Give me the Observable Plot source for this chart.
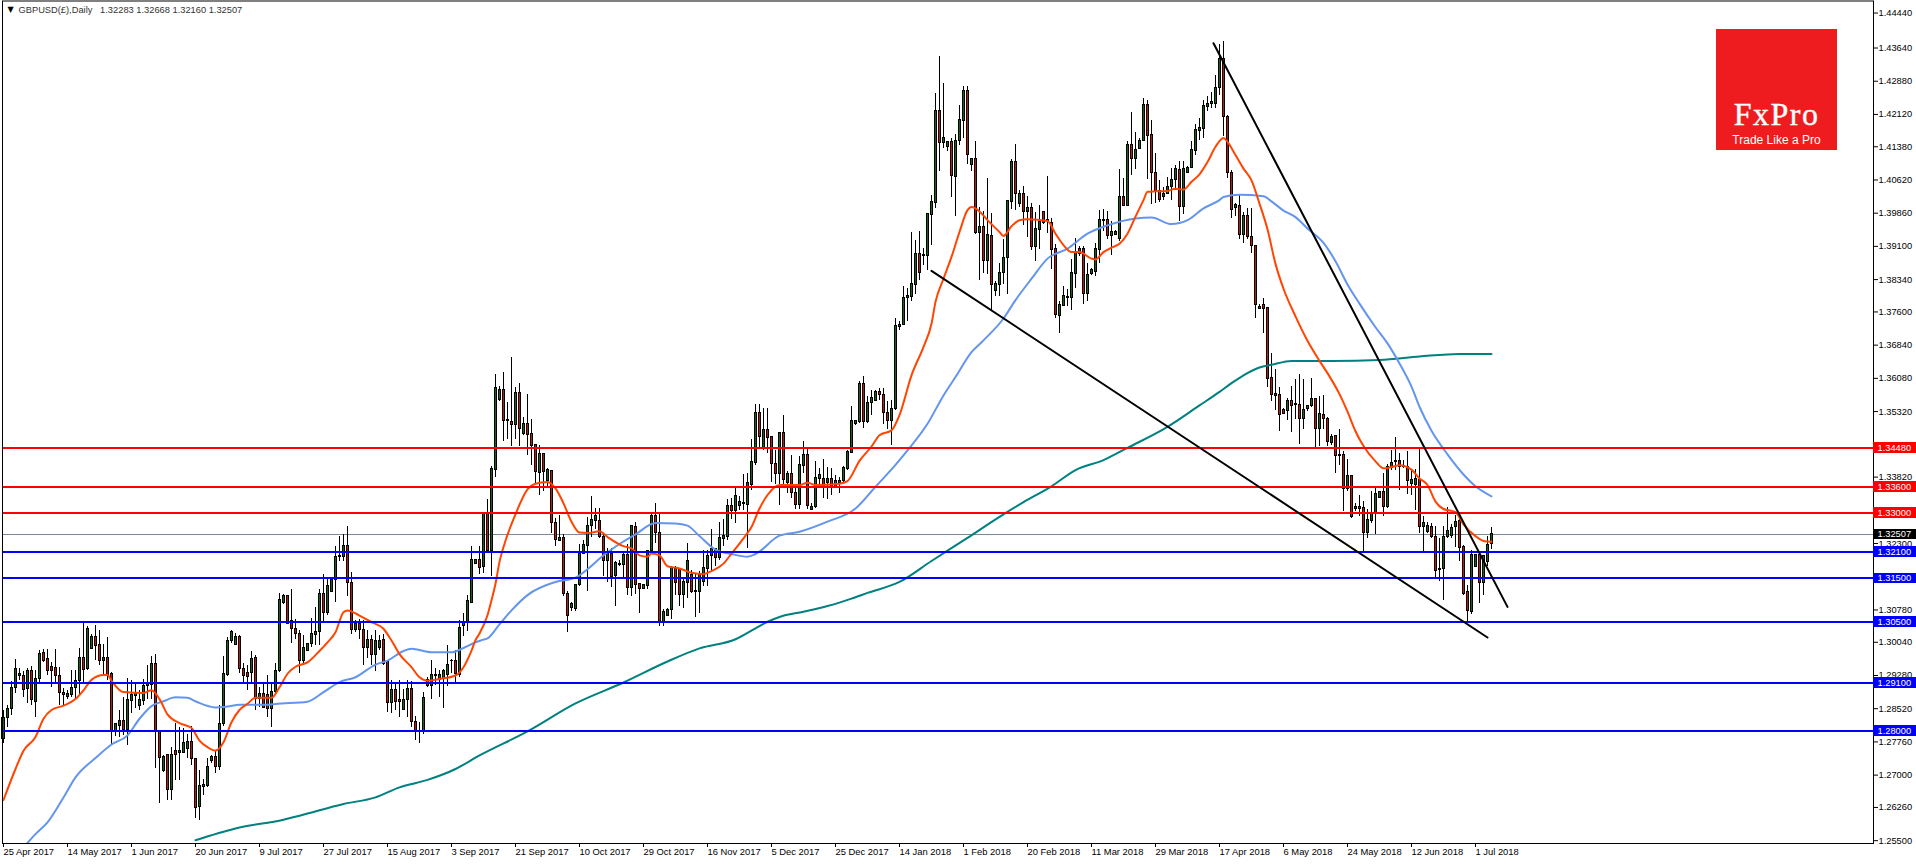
<!DOCTYPE html>
<html>
<head>
<meta charset="utf-8">
<script src="https://cdn.jsdelivr.net/npm/d3@7"></script>
<script src="https://cdn.jsdelivr.net/npm/@observablehq/plot@0.6"></script>
<style>
html,body{margin:0;padding:0;background:#fff;overflow:hidden}
#wrap{position:relative;width:1916px;height:864px}
#logo{position:absolute;left:1716px;top:29px;width:121px;height:121px;background:#ee1c1f;color:#fff;text-align:center}
#logo .a{position:absolute;left:0;right:0;top:69px;font:32px/32px "Liberation Serif",serif;letter-spacing:1.5px;-webkit-text-stroke:.4px #fff}
#logo .b{position:absolute;left:0;right:0;top:104px;font:12px/14px "Liberation Sans",sans-serif}
svg{display:block}
</style>
</head>
<body>
<div id="wrap">
<div id="chart"></div>
<div id="logo"><div class="a">FxPro</div><div class="b">Trade Like a Pro</div></div>
</div>
<script>
// Daily candles, in 1/10000 of a dollar, one entry per trading bar.
const opens = [
12783,12831,12852,12900,12927,12926,12896,12939,12867,12920,
12980,12966,12947,12945,12927,12889,12878,12884,12899,12916,
12968,12942,12988,13017,12998,12961,12968,12932,12800,12812,
12823,12804,12869,12882,12859,12869,12904,12906,12955,12798,
12709,12745,12666,12756,12750,12750,12759,12775,12738,12626,
12672,12676,12732,12741,12718,12817,12930,13006,12997,13017,
12942,12934,12933,12968,12874,12886,12884,12852,12890,12938,
13093,13109,13052,13035,13023,12962,12984,13000,13020,13027,
13115,13071,13120,13147,13199,13200,13225,13140,13032,13045,
13032,12990,13010,12974,12991,13010,12960,12865,12894,12872,
12850,12872,12896,12821,12802,12802,12918,12905,12926,12918,
12920,12929,12961,12962,12929,13041,13050,13095,13183,13192,
13176,13298,13212,13398,13558,13581,13511,13509,13502,13574,
13480,13503,13480,13455,13392,13435,13372,13396,13276,13236,
13242,13114,13082,13080,13134,13205,13225,13269,13282,13282,
13246,13191,13206,13156,13182,13181,13204,13129,13267,13137,
13126,13133,13214,13292,13255,13051,13065,13078,13171,13171,
13112,13140,13158,13120,13119,13143,13171,13201,13217,13196,
13241,13246,13316,13305,13316,13320,13319,13364,13415,13528,
13448,13490,13473,13413,13389,13482,13369,13388,13345,13318,
13408,13432,13307,13314,13377,13377,13368,13377,13360,13369,
13372,13400,13438,13503,13509,13595,13507,13551,13557,13576,
13569,13529,13511,13539,13726,13730,13793,13795,13822,13892,
13889,13888,13982,14010,14220,14147,14138,14148,14069,14152,
14197,14265,14097,14109,13941,13955,13877,13933,13808,13822,
13848,13883,14012,14102,14008,14031,13989,13997,13909,13947,
13988,13969,13963,13903,13751,13774,13793,13793,13847,13904,
13904,13801,13847,13852,13902,13968,13970,13934,13937,13927,
14022,14002,14142,14110,14133,14151,14234,14165,14077,14037,
14022,14030,14045,14062,14085,14001,14079,14089,14129,14174,
14179,14230,14237,14237,14272,14340,14205,14079,13999,14003,
13935,13979,13932,13911,13767,13775,13768,13608,13573,13569,
13536,13533,13556,13547,13548,13516,13537,13545,13560,13493,
13525,13516,13460,13475,13431,13433,13354,13384,13308,13313,
13311,13254,13281,13297,13334,13348,13313,13402,13416,13418,
13407,13405,13367,13365,13376,13267,13256,13267,13244,13170,
13171,13244,13247,13267,13281,13222,13120,13074,13176,13203,
13140,13188,13228];
const highs = [
12848,12859,12915,12964,12943,12936,12943,12948,12939,12985,
12987,12987,12958,12987,12947,12899,12894,12939,12939,12989,
13046,13039,13022,13042,13032,12999,13014,12934,12817,12849,
12878,12920,12916,12909,12894,12918,12951,12971,12977,12800,
12745,12745,12764,12817,12808,12806,12794,12811,12738,12710,
12691,12737,12745,12756,12859,12971,13014,13031,13023,13020,
12955,12951,12984,12973,12901,12909,12928,12909,12955,13115,
13113,13111,13124,13055,13032,13019,13001,13058,13084,13124,
13159,13149,13149,13223,13245,13251,13269,13163,13054,13055,
13054,13031,13019,13031,13019,13022,12962,12916,12913,12916,
12897,12916,12915,12834,12821,12888,12924,12962,12943,12939,
12941,12997,12964,12985,13054,13069,13112,13224,13194,13223,
13298,13330,13406,13616,13590,13621,13552,13656,13586,13596,
13519,13572,13514,13457,13455,13436,13402,13398,13288,13293,
13250,13120,13095,13137,13227,13238,13290,13337,13311,13311,
13252,13219,13219,13189,13191,13208,13227,13272,13278,13139,
13137,13215,13298,13322,13299,13078,13082,13177,13177,13173,
13150,13230,13169,13158,13166,13214,13215,13261,13219,13278,
13284,13330,13333,13360,13337,13387,13391,13467,13549,13549,
13539,13539,13473,13444,13484,13522,13394,13431,13366,13429,
13463,13448,13322,13417,13402,13423,13404,13402,13385,13382,
13406,13444,13544,13512,13600,13613,13566,13580,13581,13585,
13585,13554,13558,13745,13738,13819,13814,13941,13924,13944,
13905,13985,14027,14260,14345,14283,14151,14157,14167,14233,
14277,14277,14111,14151,13999,13991,14065,13986,13829,13871,
13925,14016,14109,14144,14039,14048,14024,14008,13988,14004,
13989,14071,13974,13915,13785,13818,13812,13879,13928,13909,
13909,13871,13860,13917,13993,13995,13989,13966,13947,14086,
14066,14150,14217,14171,14157,14249,14245,14199,14123,14060,
14045,14068,14089,14096,14104,14105,14092,14150,14188,14203,
14245,14253,14262,14300,14373,14380,14210,14084,14009,14027,
13988,13996,13996,13913,13777,13790,13771,13665,13628,13586,
13540,13562,13590,13606,13617,13606,13547,13608,13562,13567,
13569,13519,13479,13477,13490,13440,13422,13384,13321,13341,
13326,13308,13348,13359,13349,13391,13411,13442,13472,13437,
13419,13440,13400,13400,13446,13291,13279,13276,13270,13242,
13269,13313,13273,13295,13299,13225,13133,13213,13206,13212,
13203,13247,13267];
const lows = [
12773,12808,12836,12886,12916,12878,12863,12859,12831,12909,
12958,12928,12901,12913,12859,12859,12874,12878,12871,12882,
12909,12939,12987,12962,12951,12928,12916,12771,12788,12787,
12791,12768,12842,12852,12848,12859,12874,12874,12714,12634,
12707,12642,12642,12688,12688,12749,12737,12722,12600,12596,
12653,12672,12726,12704,12710,12811,12925,13002,12997,12932,
12909,12894,12913,12848,12855,12852,12831,12810,12886,12935,
13090,13045,13002,13010,12932,12951,12983,12993,12997,12997,
13050,13065,13118,13096,13189,13189,13109,13022,13027,13010,
12951,12966,12951,12938,12985,12951,12844,12842,12848,12831,
12848,12831,12808,12779,12773,12794,12901,12872,12905,12877,
12852,12903,12932,12913,12924,13017,13028,13093,13181,13158,
13162,13211,13154,13381,13555,13463,13467,13451,13469,13451,
13478,13431,13408,13364,13341,13348,13360,13253,13223,13234,
13108,13026,13074,13074,13131,13204,13120,13244,13261,13242,
13154,13140,13129,13086,13177,13152,13112,13108,13114,13069,
13124,13124,13211,13230,13041,13040,13063,13055,13112,13086,
13082,13105,13116,13060,13070,13131,13131,13166,13177,13191,
13223,13238,13284,13276,13305,13305,13219,13351,13408,13448,
13444,13436,13370,13364,13318,13356,13345,13333,13307,13307,
13390,13307,13305,13310,13360,13333,13330,13341,13356,13345,
13368,13398,13436,13501,13505,13493,13505,13524,13554,13558,
13503,13490,13455,13535,13718,13728,13738,13785,13800,13833,
13867,13854,13913,13997,14081,14133,14127,14023,13978,14140,
14156,14098,14081,13938,13833,13848,13846,13764,13795,13795,
13822,13799,13995,13993,13999,13957,13931,13900,13875,13902,
13959,13940,13856,13745,13711,13772,13773,13764,13814,13888,
13778,13785,13844,13841,13871,13944,13925,13889,13935,13921,
14001,14001,14073,14085,14131,14150,14064,14007,14008,14010,
14015,14028,14016,14039,13966,13982,14076,14089,14119,14153,
14157,14218,14226,14225,14255,14162,14065,13974,13979,13926,
13917,13925,13893,13746,13766,13710,13586,13554,13534,13486,
13525,13512,13483,13514,13457,13492,13532,13542,13450,13453,
13492,13453,13455,13390,13409,13304,13348,13288,13304,13291,
13212,13241,13275,13251,13332,13292,13311,13396,13396,13352,
13402,13342,13339,13306,13253,13212,13253,13242,13150,13144,
13100,13242,13242,13220,13190,13111,13050,13067,13174,13093,
13111,13177,13216];
const closes = [
12831,12852,12900,12943,12932,12895,12939,12871,12920,12977,
12962,12938,12938,12926,12887,12883,12886,12900,12916,12968,
12941,13035,13017,12996,12961,12968,12930,12802,12816,12823,
12804,12871,12884,12886,12872,12905,12909,12955,12800,12739,
12741,12666,12746,12747,12756,12774,12775,12737,12625,12674,
12678,12718,12741,12718,12817,12932,13008,13027,13017,12942,
12926,12924,12966,12874,12886,12853,12852,12890,12939,13101,
13109,13046,13035,13022,12962,12991,13000,13022,13028,13115,
13071,13132,13147,13200,13202,13225,13139,13031,13045,13032,
12991,13010,12974,13008,13008,12955,12865,12894,12868,12868,
12873,12896,12821,12800,12800,12877,12903,12928,12929,12928,
12939,12951,12962,12932,13037,13050,13098,13192,13192,13175,
13298,13212,13400,13587,13581,13511,13513,13502,13574,13493,
13503,13479,13454,13394,13435,13394,13398,13278,13237,13242,
13114,13065,13092,13134,13206,13226,13269,13284,13294,13246,
13191,13206,13154,13185,13183,13204,13129,13269,13136,13127,
13135,13214,13292,13255,13051,13074,13079,13173,13139,13112,
13141,13189,13119,13121,13158,13173,13201,13217,13196,13242,
13247,13316,13305,13339,13325,13322,13369,13417,13528,13474,
13490,13472,13413,13389,13482,13375,13390,13346,13318,13409,
13432,13316,13314,13379,13387,13356,13377,13356,13372,13372,
13402,13439,13510,13510,13595,13509,13551,13564,13576,13569,
13529,13511,13539,13728,13731,13793,13796,13824,13892,13850,
13890,13984,14011,14220,14147,14157,14148,14072,14152,14199,
14265,14120,14110,13941,13955,13877,13935,13821,13824,13848,
13883,14014,14102,14030,14030,13989,13999,13909,13950,13965,
13963,13970,13902,13754,13776,13797,13795,13849,13894,13892,
13801,13844,13856,13904,13970,13970,13934,13942,13942,14024,
14002,14142,14110,14131,14151,14234,14163,14077,14037,14016,
14031,14047,14063,14086,14001,14086,14089,14131,14176,14180,
14231,14237,14240,14272,14340,14205,14078,13994,14005,13935,
13979,13931,13911,13775,13772,13767,13606,13569,13567,13525,
13527,13557,13545,13549,13516,13536,13545,13560,13491,13526,
13514,13463,13474,13430,13433,13355,13384,13291,13313,13309,
13255,13283,13298,13344,13348,13313,13406,13415,13419,13405,
13405,13374,13376,13378,13267,13276,13270,13245,13168,13172,
13244,13259,13265,13279,13220,13115,13076,13203,13203,13140,
13201,13227,13251];

// Moving averages, read at the bar numbers given alongside.
const fastBars = [0,3,5,8,10,12,15,18,20,22,25,26,27,30,35,37,39,41,44,47,49,51,53,55,57,59,61,63,67,69,71,73,76,79,81,83,85,86,89,92,95,97,99,102,104,106,109,113,115,117,118,119,121,122,123,124,125,128,131,133,136,138,140,142,144,146,149,151,155,157,159,161,162,164,166,169,172,175,177,180,182,185,187,189,191,194,199,201,203,209,211,214,217,219,222,224,227,230,232,233,235,237,239,241,242,244,246,249,250,252,254,256,261,263,265,267,269,272,273,275,277,279,281,283,285,286,288,291,293,295,297,299,301,303,305,306,308,310,312,314,316,318,320,323,326,329,331,334,336,338,340,343,345,347,349,352,354,356,358,360,363,365,368,370,372];
const fastMA = [12643,12714,12756,12787,12829,12849,12859,12874,12894,12918,12929,12929,12916,12890,12888,12894,12874,12839,12819,12808,12779,12764,12756,12775,12821,12849,12863,12877,12877,12901,12932,12948,12958,12984,13004,13027,13073,13077,13065,13050,13035,13008,12977,12947,12924,12916,12920,12928,12947,12985,13009,13024,13066,13100,13138,13188,13222,13297,13354,13367,13371,13356,13322,13280,13255,13254,13258,13245,13224,13219,13203,13200,13207,13203,13178,13173,13163,13160,13167,13184,13207,13242,13268,13310,13341,13364,13364,13369,13364,13367,13373,13419,13452,13478,13489,13524,13615,13680,13733,13783,13836,13886,13943,13993,14000,13990,13970,13943,13934,13956,13970,13972,13968,13939,13913,13897,13897,13882,13880,13897,13907,13916,13939,13978,14016,14035,14036,14037,14042,14040,14058,14075,14103,14138,14158,14149,14119,14088,14061,14008,13949,13870,13813,13750,13694,13648,13620,13572,13532,13487,13453,13418,13402,13405,13409,13399,13379,13364,13326,13309,13302,13274,13247,13236,13234];
const slowBars = [6,8,11,15,18,23,27,31,34,37,40,43,46,48,53,56,59,66,68,76,80,84,88,93,96,100,102,107,112,115,118,120,121,124,127,131,138,143,146,150,154,158,163,168,171,174,178,182,186,188,194,199,206,213,218,223,226,231,235,238,242,245,250,253,257,261,266,271,276,283,287,292,296,300,304,305,309,315,317,320,323,326,330,333,336,339,343,346,349,352,354,357,361,365,368,372];
const slowMA = [12545,12565,12592,12649,12695,12739,12770,12791,12829,12858,12869,12878,12877,12869,12855,12857,12861,12861,12863,12868,12890,12913,12924,12953,12962,12984,12989,12981,12981,12991,13004,13010,13013,13045,13077,13112,13142,13152,13171,13203,13229,13251,13277,13276,13271,13247,13216,13206,13200,13206,13248,13257,13280,13310,13360,13410,13443,13504,13569,13611,13668,13695,13745,13787,13836,13882,13905,13939,13958,13974,13976,13961,13970,13997,14016,14023,14028,14025,14013,13992,13977,13951,13918,13876,13823,13779,13725,13688,13642,13589,13543,13488,13434,13388,13361,13338];
const longBars = [48,58,70,74,85,93,99,106,113,119,131,143,155,166,174,183,188,191,194,200,206,212,216,224,232,241,249,255,262,268,275,281,291,299,304,307,310,314,317,322,332,344,354,364,372];
const longMA = [12551,12578,12598,12607,12634,12649,12672,12689,12714,12745,12800,12864,12912,12960,12990,13011,13036,13051,13062,13074,13087,13104,13117,13142,13190,13243,13291,13325,13361,13398,13421,13449,13497,13546,13577,13597,13615,13633,13639,13648,13648,13650,13658,13664,13664];

// Horizontal levels and hand-drawn trend lines.
const resistance = [1.3448, 1.336, 1.33];
const support = [1.321, 1.315, 1.305, 1.291, 1.28];
const lastPrice = 1.32507;
const trendBars = [[232, 371], [302.5, 376]];
const trendPrices = [[1.3854, 1.3015], [1.4375, 1.3085]];

// Axis labels.
const priceTicks = [1.4444,1.4364,1.4288,1.4212,1.4138,1.4062,1.3986,1.391,1.3834,1.376,1.3684,1.3608,1.3532,1.3456,1.3382,1.3306,1.323,1.3154,1.3078,1.3004,1.2928,1.2852,1.2776,1.27,1.2626,1.255];
const dateLabels = ["25 Apr 2017","14 May 2017","1 Jun 2017","20 Jun 2017","9 Jul 2017","27 Jul 2017","15 Aug 2017","3 Sep 2017","21 Sep 2017","10 Oct 2017","29 Oct 2017","16 Nov 2017","5 Dec 2017","25 Dec 2017","14 Jan 2018","1 Feb 2018","20 Feb 2018","11 Mar 2018","29 Mar 2018","17 Apr 2018","6 May 2018","24 May 2018","12 Jun 2018","1 Jul 2018"];
const barsPerLabel = 16;
const title = "GBPUSD(£),Daily\u00a0\u00a0\u00a01.32283 1.32668 1.32160 1.32507";

const candles = opens.map((o, i) => ({bar: i, open: o / 1e4, high: highs[i] / 1e4, low: lows[i] / 1e4, close: closes[i] / 1e4}));
const series = (bars, vals) => bars.map((b, i) => ({bar: b, price: vals[i] / 1e4}));
const trends = trendBars.flatMap((bars, t) => bars.map((b, i) => ({t, bar: b, price: trendPrices[t][i]})));
const levelLabels = [
  ...resistance.map(v => ({v, c: "#ff0000"})),
  ...support.map(v => ({v, c: "#0000ff"})),
  {v: lastPrice, c: "#000000"}
];

const font = {fontFamily: "Liberation Sans, sans-serif", fontSize: 9.3};
const crisp = {shapeRendering: "crispEdges"};
const LAST = 467.5, BOX = 478.5;

const chart = Plot.plot({
  width: 1916, height: 864,
  marginLeft: 3, marginRight: 43, marginTop: 0.5, marginBottom: 21,
  style: {background: "#fff", overflow: "visible"},
  x: {domain: [0, LAST], range: [3, 1873], axis: null},
  y: {domain: [1.25435, 1.44716], range: [843, 0.5], axis: null},
  color: {type: "identity"},
  marks: [
    Plot.ruleY([lastPrice], {x1: 0, x2: LAST, stroke: "#778899", strokeWidth: 1, ...crisp}),
    Plot.ruleX(candles, {x: "bar", y1: "low", y2: "high", stroke: "#000", strokeWidth: 1, ...crisp}),
    Plot.rect(candles, {
      x1: d => d.bar - 0.25, x2: d => d.bar + 0.25,
      y1: "open", y2: "close",
      fill: d => d.close >= d.open ? "#0a6a12" : "#c81212",
      stroke: "#000", strokeWidth: 1, ...crisp
    }),
    Plot.line(series(longBars, longMA), {x: "bar", y: "price", stroke: "#008080", strokeWidth: 2, curve: "monotone-x"}),
    Plot.line(series(slowBars, slowMA), {x: "bar", y: "price", stroke: "#6495ed", strokeWidth: 2, curve: "monotone-x"}),
    Plot.line(series(fastBars, fastMA), {x: "bar", y: "price", stroke: "#ff4500", strokeWidth: 2, curve: "monotone-x"}),
    Plot.ruleY(resistance, {x1: 0, x2: LAST, stroke: "#ff0000", strokeWidth: 2, ...crisp}),
    Plot.ruleY(support, {x1: 0, x2: LAST, stroke: "#0000ff", strokeWidth: 2, ...crisp}),
    Plot.line(trends, {x: "bar", y: "price", z: "t", stroke: "#000", strokeWidth: 2}),
    Plot.axisY(priceTicks, {anchor: "right", tickSize: 4, tickPadding: 1, tickFormat: d3.format(".5f"), label: null, ...font, fill: "#000", stroke: "#000"}),
    Plot.axisX(dateLabels.map((_, i) => i * barsPerLabel), {
      anchor: "bottom", tickSize: 4, tickPadding: 1, label: null,
      tickFormat: d => dateLabels[d / barsPerLabel], textAnchor: "start", ...font, fontSize: 9.4
    }),
    Plot.frame({stroke: "#000", insetLeft: -1}),
    Plot.rect(levelLabels, {x1: LAST, x2: BOX, y1: d => d.v - 0.00125, y2: d => d.v + 0.00125, fill: "c", ...crisp}),
    Plot.text(levelLabels, {x: LAST, y: "v", dx: 4, text: d => d3.format(".5f")(d.v), textAnchor: "start", fill: "#fff", ...font}),
    Plot.text(["▼"], {frameAnchor: "top-left", dx: 4, dy: 5, fontSize: 8, textAnchor: "start", lineAnchor: "top", fill: "#000", fontFamily: "DejaVu Sans"}),
    Plot.text([title], {frameAnchor: "top-left", dx: 15, dy: 5, textAnchor: "start", lineAnchor: "top", fill: "#333", ...font})
  ]
});
document.getElementById("chart").appendChild(chart);
</script>
</body>
</html>
